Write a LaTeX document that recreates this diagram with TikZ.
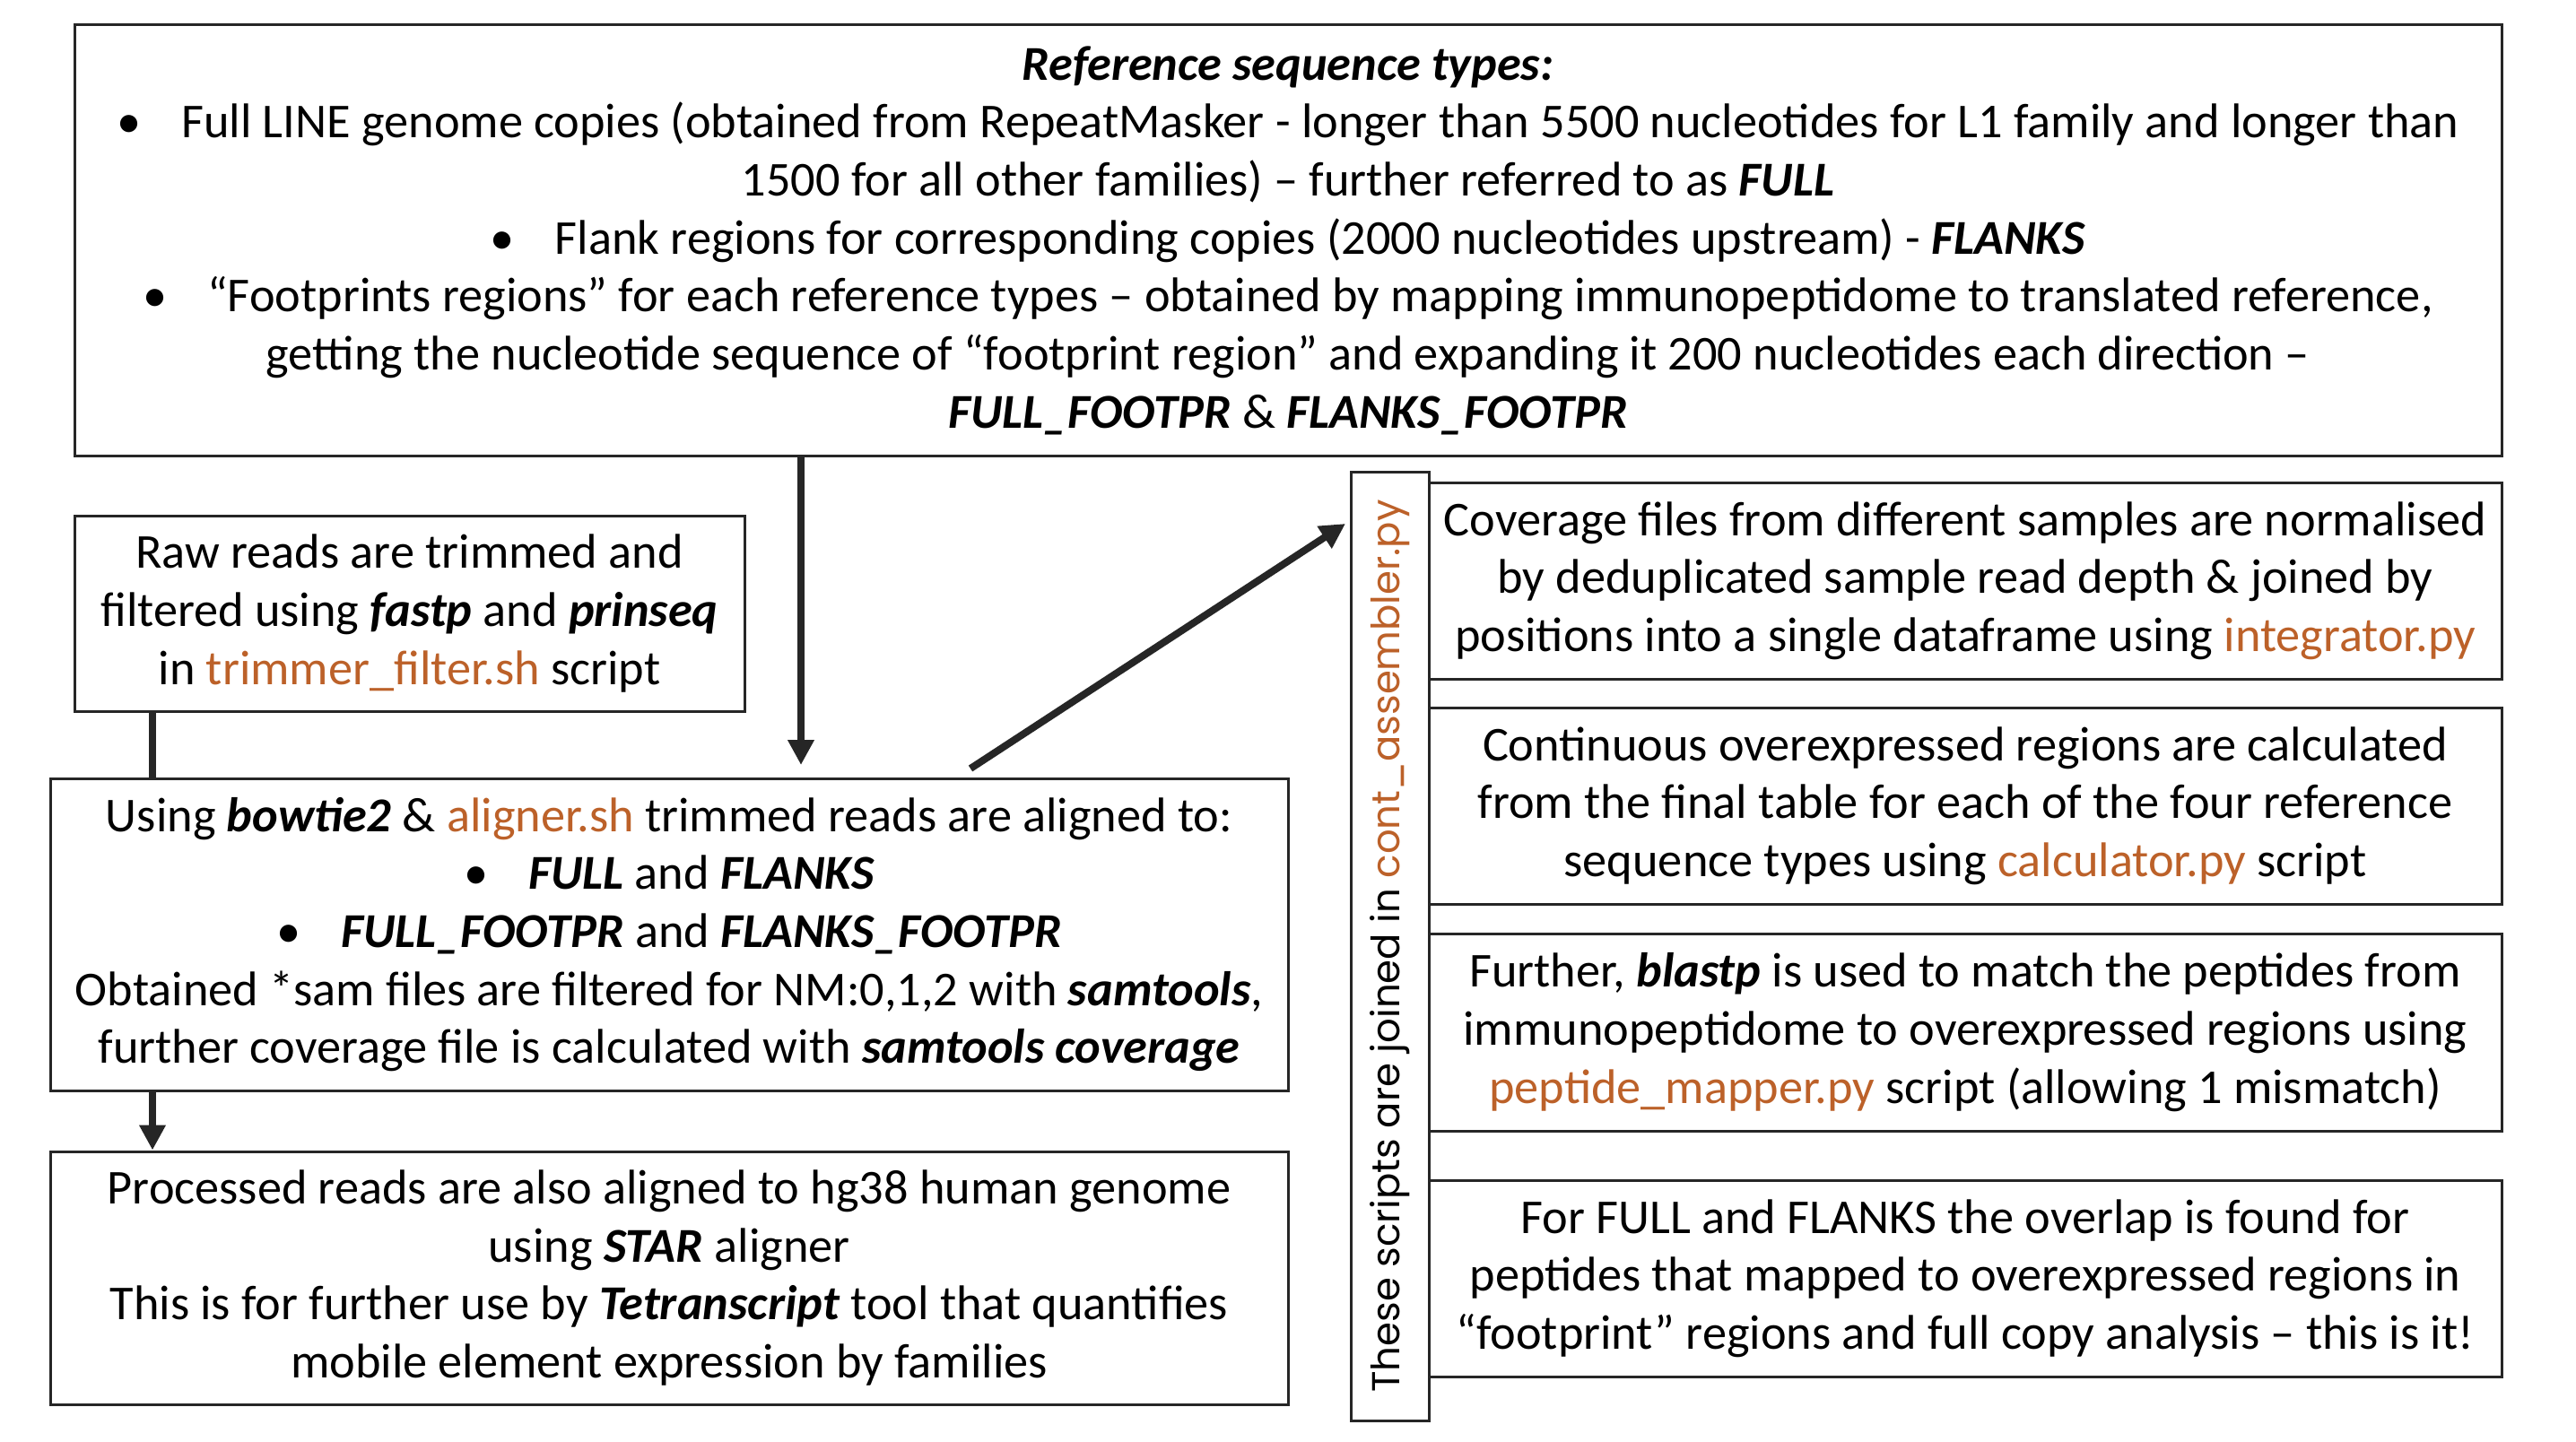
\documentclass[tikz,border=0pt]{standalone}
\usepackage{fontspec}
\setmainfont{Carlito}
\newfontfamily\gothic{Poppins}
\usetikzlibrary{arrows.meta}
\definecolor{linegray}{HTML}{262626}
\definecolor{scriptorange}{HTML}{BC6129}
\newcommand{\tool}[1]{\textbf{\textit{#1}}}
\newcommand{\fname}[1]{\textcolor{scriptorange}{#1}}
\newcommand{\bul}{\textbullet\hspace{0.45cm}}
\begin{document}
\begin{tikzpicture}[
  box/.style={draw=linegray,line width=0.03cm,align=center,inner sep=0pt,font=\fontsize{15.45}{18.4}\selectfont},
  arr/.style={draw=linegray,line width=0.08cm,-{Triangle[length=0.28cm,width=0.28cm]}},
  link/.style={draw=linegray,line width=0.08cm}]
\useasboundingbox (0,0) rectangle (28.72,-16.08);
\node[box,minimum width=27.06cm,minimum height=4.80cm] (refs) at (14.36,-2.68) {\tool{Reference sequence types:}\\
\bul Full LINE genome copies (obtained from RepeatMasker - longer than 5500 nucleotides for L1 family and longer than\\
1500 for all other families) – further referred to as \tool{FULL}\\
\bul Flank regions for corresponding copies (2000 nucleotides upstream) - \tool{FLANKS}\\
\bul “Footprints regions” for each reference types – obtained by mapping immunopeptidome to translated reference,\\
getting the nucleotide sequence of “footprint region” and expanding it 200 nucleotides each direction –\\
\tool{FULL\_FOOTPR} \& \tool{FLANKS\_FOOTPR}};
\node[box,minimum width=7.47cm,minimum height=2.18cm] (raw) at (4.565,-6.84) {Raw reads are trimmed and\\
filtered using \tool{fastp} and \tool{prinseq}\\
in \fname{trimmer\_filter.sh} script};
\node[box,minimum width=13.80cm,minimum height=3.48cm] (align) at (7.46,-10.42) {Using \tool{bowtie2} \& \fname{aligner.sh} trimmed reads are aligned to:\\
\bul \tool{FULL} and \tool{FLANKS}\\
\bul \tool{FULL\_FOOTPR} and \tool{FLANKS\_FOOTPR}\\
Obtained *sam files are filtered for NM:0,1,2 with \tool{samtools},\\
further coverage file is calculated with \tool{samtools coverage}};
\node[box,minimum width=13.80cm,minimum height=2.82cm] (proc) at (7.46,-14.25) {Processed reads are also aligned to hg38 human genome\\
using \tool{STAR} aligner\\
This is for further use by \tool{Tetranscript} tool that quantifies\\
mobile element expression by families};
\node[box,rotate=90,minimum width=10.58cm,minimum height=0.87cm,font=\gothic\fontsize{12.35}{14}\selectfont] (side) at (15.495,-10.55) {These scripts are joined in \fname{cont\_assembler.py}};
\node[box,minimum width=11.96cm,minimum height=2.19cm] (cov) at (21.91,-6.475) {Coverage files from different samples are normalised\\
by deduplicated sample read depth \& joined by\\
positions into a single dataframe using \fname{integrator.py}};
\node[box,minimum width=11.96cm,minimum height=2.19cm] (calc) at (21.91,-8.985) {Continuous overexpressed regions are calculated\\
from the final table for each of the four reference\\
sequence types using \fname{calculator.py} script};
\node[box,minimum width=11.96cm,minimum height=2.20cm] (blast) at (21.91,-11.51) {Further, \tool{blastp} is used to match the peptides from\\
immunopeptidome to overexpressed regions using\\
\fname{peptide\_mapper.py} script (allowing 1 mismatch)};
\node[box,minimum width=11.96cm,minimum height=2.19cm] (overlap) at (21.91,-14.255) {For FULL and FLANKS the overlap is found for\\
peptides that mapped to overexpressed regions in\\
“footprint” regions and full copy analysis – this is it!};
\coordinate (t1) at (8.93,-8.53);
\coordinate (d0) at (10.82,-8.57);
\coordinate (d1) at (15.00,-5.84);
\draw[arr] (refs.south -| t1) -- (t1);
\draw[arr] (d0) -- (d1);
\draw[link] (raw.south -| 1.70,0) -- (align.north -| 1.70,0);
\draw[arr] (align.south -| 1.70,0) -- (proc.north -| 1.70,0);
\end{tikzpicture}
\end{document}
